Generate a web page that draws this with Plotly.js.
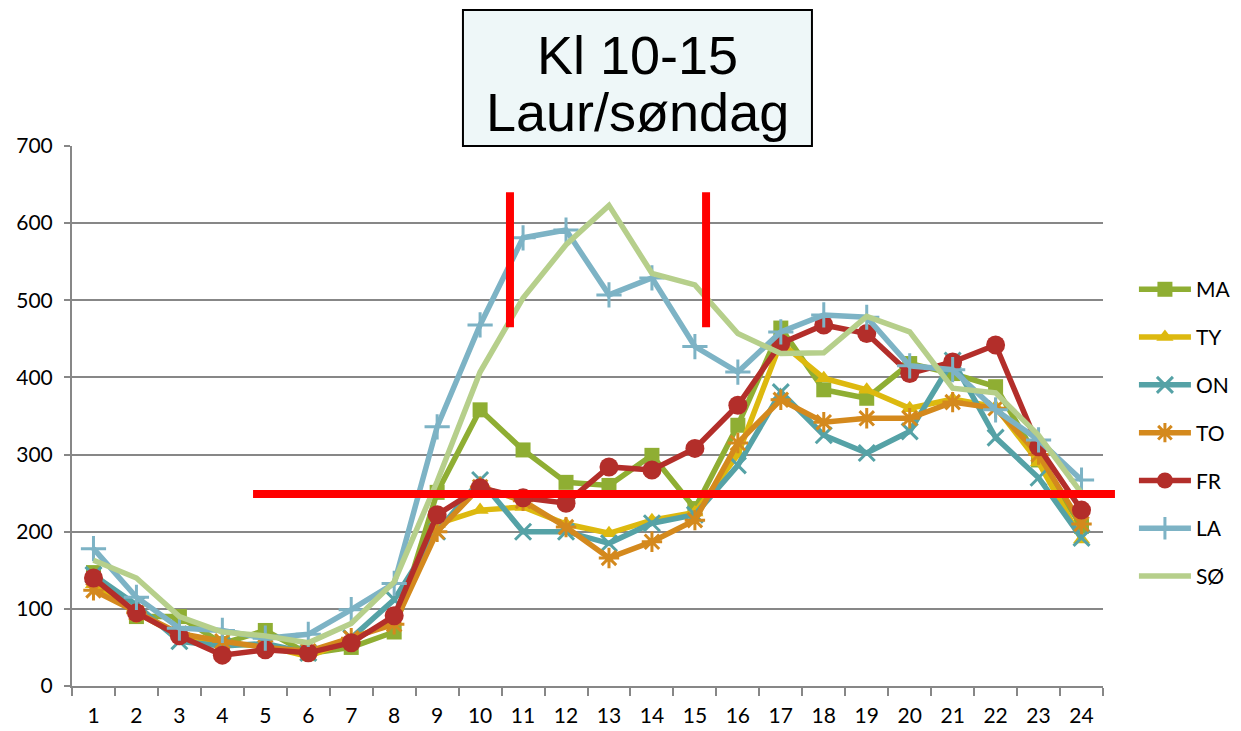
<!DOCTYPE html>
<html>
<head>
<meta charset="utf-8">
<script src="https://cdn.plot.ly/plotly-3.0.1.min.js"></script>
<style>html,body{margin:0;padding:0;background:#fff;}#chart{width:1241px;height:731px;}</style>
</head>
<body>
<div id="chart"></div>
<script>
const hours = ['1','2','3','4','5','6','7','8','9','10','11','12','13','14','15','16','17','18','19','20','21','22','23','24'];
const seriesNames = ['MA','TY','ON','TO','FR','LA','SØ'];
const MA = [147, 90, 90, 55, 72, 42, 50, 70, 251, 358, 306, 264, 260, 299, 230, 338, 464, 384, 373, 418, 405, 388, 293, 207];
const TY = [132, 95, 65, 55, 52, 38, 60, 85, 210, 228, 232, 210, 198, 215, 225, 300, 445, 399, 384, 360, 372, 362, 290, 190];
const ON = [144, 105, 58, 52, 55, 43, 62, 112, 200, 267, 200, 200, 185, 211, 222, 286, 381, 325, 302, 330, 422, 322, 270, 192];
const TO = [124, 95, 68, 58, 50, 45, 62, 80, 200, 258, 240, 206, 166, 187, 215, 315, 371, 342, 347, 347, 368, 360, 300, 210];
const FR = [140, 95, 65, 40, 47, 43, 56, 91, 222, 257, 244, 237, 284, 280, 308, 364, 444, 468, 457, 405, 420, 442, 310, 228];
const LA = [178, 115, 75, 72, 62, 67, 99, 133, 336, 468, 581, 591, 507, 529, 440, 407, 459, 481, 478, 415, 410, 358, 319, 267];
const SO = [163, 140, 90, 70, 65, 56, 81, 135, 265, 407, 503, 572, 623, 535, 520, 457, 431, 432, 479, 459, 386, 380, 325, 250];
const allValues = [MA, TY, ON, TO, FR, LA, SO];
const colors = ['#8FAE33', '#DDB90F', '#55A2A6', '#D4891D', '#B32E2A', '#7DB3C5', '#B6CF8B'];
const symbols = ['square', 'triangle-up', 'x-thin-open', 'asterisk-open', 'circle', 'cross-thin-open', null];
const sizes = [15, 15, 16, 17, 19, 18, 0];
const titleLine1 = 'Kl 10-15';
const titleLine2 = 'Laur/søndag';

const traces = seriesNames.map((name, i) => {
  const t = {
    type: 'scatter',
    x: hours,
    y: allValues[i],
    name: name,
    legendgroup: 'g' + i,
    line: {color: colors[i], width: 5.5},
    mode: symbols[i] ? 'lines+markers' : 'lines'
  };
  if (symbols[i]) {
    const thin = symbols[i].indexOf('open') >= 0;
    t.marker = {
      symbol: symbols[i],
      size: sizes[i],
      color: colors[i],
      line: {color: colors[i], width: thin ? 3 : 0}
    };
  }
  return t;
});

const titleFont = {family: '"Liberation Sans", Arial, sans-serif', size: 54, color: '#000'};

const layout = {
  width: 1241,
  height: 731,
  margin: {l: 72, r: 138, t: 146, b: 45, autoexpand: false},
  paper_bgcolor: '#ffffff',
  plot_bgcolor: '#ffffff',
  font: {family: 'Lato, "Open Sans", sans-serif', size: 21, color: '#000'},
  showlegend: true,
  legend: {
    x: 1.03, xanchor: 'left',
    y: 0.772, yanchor: 'top',
    itemwidth: 52,
    tracegroupgap: 17.5,
    font: {size: 21, color: '#000'},
    bgcolor: 'rgba(0,0,0,0)'
  },
  xaxis: {
    type: 'category',
    range: [-0.5, 23.5],
    showgrid: false,
    showline: true,
    linecolor: '#878787',
    linewidth: 2,
    ticks: 'outside',
    tickson: 'boundaries',
    ticklen: 8,
    tickwidth: 2,
    tickcolor: '#878787',
    ticklabelstandoff: 10,
    tickfont: {size: 21, color: '#000'},
    zeroline: false
  },
  yaxis: {
    range: [0, 700],
    dtick: 100,
    showgrid: true,
    gridcolor: '#878787',
    gridwidth: 2,
    showline: true,
    linecolor: '#878787',
    linewidth: 2,
    ticks: 'outside',
    ticklen: 6,
    tickwidth: 2,
    tickcolor: '#878787',
    ticklabelstandoff: 7,
    tickfont: {size: 21, color: '#000'},
    zeroline: false
  },
  shapes: [
    {type: 'rect', xref: 'paper', yref: 'paper', x0: 0.3792, x1: 0.7177, y0: 1.0, y1: 1.2519, fillcolor: '#EEF7F8', line: {color: '#000', width: 2}, layer: 'above'},
    {type: 'line', xref: 'paper', yref: 'y', x0: 0.4248, x1: 0.4248, y0: 465, y1: 640, line: {color: '#FF0000', width: 8}},
    {type: 'line', xref: 'paper', yref: 'y', x0: 0.615, x1: 0.615, y0: 465, y1: 640, line: {color: '#FF0000', width: 8}},
    {type: 'line', xref: 'paper', yref: 'y', x0: 0.1756, x1: 1.0116, y0: 249, y1: 249, line: {color: '#FF0000', width: 8}}
  ],
  annotations: [
    {xref: 'paper', yref: 'paper', x: 0.5485, y: 1.1685, xanchor: 'center', yanchor: 'middle',
     text: titleLine1, showarrow: false, font: titleFont},
    {xref: 'paper', yref: 'paper', x: 0.5485, y: 1.0625, xanchor: 'center', yanchor: 'middle',
     text: titleLine2, showarrow: false, font: titleFont}
  ]
};

Plotly.newPlot('chart', traces, layout, {displayModeBar: false, staticPlot: true});
</script>
</body>
</html>
